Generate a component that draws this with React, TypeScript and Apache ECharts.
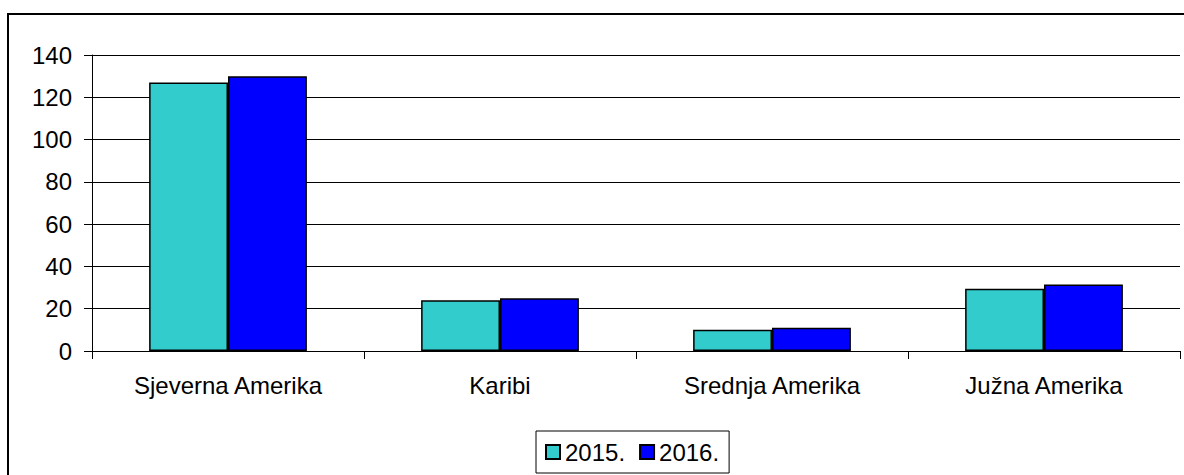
import React, { useEffect, useRef } from "react";
import * as echarts from "echarts";

const categories = ["Sjeverna Amerika", "Karibi", "Srednja Amerika", "Južna Amerika"];
const series2015 = [127, 24, 10, 29.5];
const series2016 = [130, 25, 11, 31.5];
const seriesNames = ["2015.", "2016."];
const yTicks = { min: 0, max: 140, interval: 20 };

const FONT = "'Liberation Sans', Arial, sans-serif";

export default function App() {
  const ref = useRef<HTMLDivElement>(null);
  useEffect(() => {
    if (!ref.current) return;
    const chart = echarts.init(ref.current, undefined, { renderer: "svg" });
    chart.setOption({
      animation: false,
      textStyle: { fontFamily: FONT, color: "#000" },
      grid: { left: 92, top: 55, right: 4, bottom: 124, containLabel: false },
      xAxis: {
        type: "category",
        data: categories,
        axisLine: { show: true, lineStyle: { color: "#000", width: 1 } },
        axisTick: { show: true, length: 8, lineStyle: { color: "#000" } },
        axisLabel: { color: "#000", fontSize: 24, fontFamily: FONT, margin: 22 },
        splitLine: { show: false },
      },
      yAxis: {
        type: "value",
        min: yTicks.min,
        max: yTicks.max,
        interval: yTicks.interval,
        axisLine: { show: true, lineStyle: { color: "#000", width: 1 } },
        axisTick: { show: true, length: 8, inside: false, lineStyle: { color: "#000" } },
        axisLabel: { color: "#000", fontSize: 24, fontFamily: FONT, margin: 20 },
        splitLine: { show: true, lineStyle: { color: "#000", width: 1 } },
      },
      legend: {
        data: seriesNames,
        left: 536,
        top: 431,
        orient: "horizontal",
        icon: "rect",
        itemWidth: 14,
        itemHeight: 14,
        itemGap: 14,
        padding: [9, 10, 9, 9],
        borderColor: "#000",
        borderWidth: 1,
        textStyle: { color: "#000", fontSize: 24, fontFamily: FONT },
      },
      series: [
        {
          name: seriesNames[0],
          type: "bar",
          data: series2015,
          barGap: "0%",
          barCategoryGap: "42%",
          itemStyle: { color: "#33CCCC", borderColor: "#000", borderWidth: 1.5 },
        },
        {
          name: seriesNames[1],
          type: "bar",
          data: series2016,
          barGap: "0%",
          barCategoryGap: "42%",
          itemStyle: { color: "#0000FF", borderColor: "#000", borderWidth: 1.5 },
        },
      ],
    });
    return () => chart.dispose();
  }, []);
  return (
    <div
      style={{
        position: "absolute",
        left: 0,
        top: 0,
        width: 1184,
        height: 475,
        overflow: "hidden",
        background: "#fff",
      }}
    >
      <div
        style={{
          position: "absolute",
          left: 7,
          top: 13,
          width: 1300,
          height: 600,
          borderTop: "2px solid #000",
          borderLeft: "2px solid #000",
          boxSizing: "border-box",
        }}
      />
      <div
        ref={ref}
        style={{ position: "absolute", left: 0, top: 0, width: 1184, height: 475 }}
      />
    </div>
  );
}
